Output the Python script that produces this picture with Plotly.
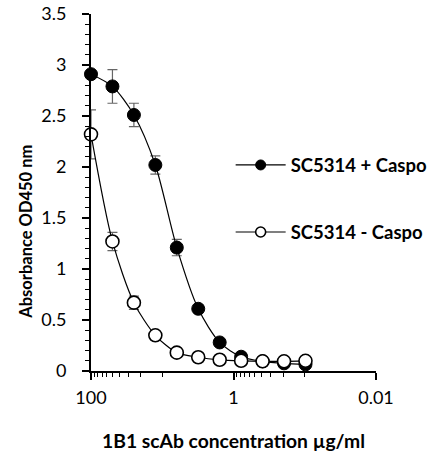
import plotly.graph_objects as go

conc = [100, 50, 25, 12.5, 6.25, 3.125, 1.5625, 0.78125, 0.390625, 0.1953125, 0.09765625]
plus_caspo = [2.91, 2.79, 2.51, 2.02, 1.21, 0.61, 0.28, 0.14, 0.095, 0.075, 0.065]
plus_err = [0.03, 0.165, 0.115, 0.09, 0.08, 0.03, 0.02, 0.02, 0.01, 0.01, 0.01]
minus_caspo = [2.32, 1.27, 0.67, 0.35, 0.18, 0.135, 0.11, 0.10, 0.095, 0.095, 0.10]
minus_err = [0.24, 0.09, 0.065, 0.02, 0.02, 0.01, 0.01, 0.01, 0.01, 0.01, 0.01]

name_plus = "SC5314 + Caspo"
name_minus = "SC5314 - Caspo"
x_title = "1B1 scAb concentration µg/ml"
y_title = "Absorbance OD450 nm"
x_major = [100, 1, 0.01]
x_major_text = ["100", "1", "0.01"]
x_minor = [90, 80, 70, 60, 50, 40, 30, 20, 10, 0.9, 0.8, 0.7, 0.6, 0.5, 0.4, 0.3, 0.2, 0.1]

FONT = "Lato"
err_color = "#666666"

fig = go.Figure()
fig.add_trace(go.Scatter(
    x=conc, y=plus_caspo, mode="lines+markers", showlegend=False,
    line=dict(color="black", width=1.2, shape="spline", smoothing=0.8),
    marker=dict(symbol="circle", size=13, color="black", line=dict(color="black", width=1)),
    error_y=dict(type="data", array=plus_err, color=err_color, thickness=1.2, width=5),
    cliponaxis=False,
))
fig.add_trace(go.Scatter(
    x=conc, y=minus_caspo, mode="lines+markers", showlegend=False,
    line=dict(color="black", width=1.2, shape="spline", smoothing=0.8),
    marker=dict(symbol="circle", size=13, color="white", line=dict(color="black", width=1.6)),
    error_y=dict(type="data", array=minus_err, color=err_color, thickness=1.2, width=5),
    cliponaxis=False,
))
# legend entries
fig.add_trace(go.Scatter(
    x=[None], y=[None], mode="lines+markers", name=name_plus, legendgroup="a",
    line=dict(color="black", width=1.2),
    marker=dict(symbol="circle", size=10, color="black", line=dict(color="black", width=1)),
))
fig.add_trace(go.Scatter(
    x=[None], y=[None], mode="lines+markers", name=name_minus, legendgroup="b",
    line=dict(color="black", width=1.2),
    marker=dict(symbol="circle", size=10, color="white", line=dict(color="black", width=1.6)),
))

fig.update_layout(
    width=430, height=459,
    margin=dict(l=91, r=54, t=14, b=88, autoexpand=False),
    paper_bgcolor="white", plot_bgcolor="white",
    font=dict(family=FONT, size=18, color="black"),
    legend=dict(x=0.49, y=0.482, xanchor="left", yanchor="middle",
                font=dict(family=FONT, size=18.5, color="black", weight="bold"),
                tracegroupgap=40, itemwidth=50, bgcolor="rgba(0,0,0,0)"),
    annotations=[
        dict(text=y_title, xref="paper", yref="paper", x=-0.228, y=0.39,
             textangle=-90, showarrow=False, xanchor="center", yanchor="middle",
             font=dict(family=FONT, size=16.5, weight="bold", color="black")),
        dict(text=x_title, xref="paper", yref="paper", x=0.5, y=-0.196,
             showarrow=False, xanchor="center", yanchor="middle",
             font=dict(family=FONT, size=19.3, weight="bold", color="black")),
    ],
)
fig.update_xaxes(
    type="log", range=[2, -2], automargin=False,
    tickvals=x_major, ticktext=x_major_text,
    ticks="outside", ticklen=7, tickwidth=1.5, tickcolor="black",
    minor=dict(tickvals=x_minor, ticks="outside", ticklen=4, tickwidth=1.2, tickcolor="black"),
    showline=True, linecolor="black", linewidth=1.8,
    showgrid=False, zeroline=False,
    tickfont=dict(family=FONT, size=18), ticklabelstandoff=2,
)
fig.update_yaxes(
    range=[0, 3.5], dtick=0.5, tick0=0, automargin=False,
    ticks="outside", ticklen=7, tickwidth=1.5, tickcolor="black",
    minor=dict(dtick=0.1, ticks="outside", ticklen=4, tickwidth=1.2, tickcolor="black"),
    showline=True, linecolor="black", linewidth=1.8,
    showgrid=False, zeroline=False,
    tickfont=dict(family=FONT, size=18), ticklabelstandoff=12,
)

fig.write_html("out.html", config={"displayModeBar": False},
               post_script="document.body.style.margin='0';document.body.style.overflow='hidden';")
